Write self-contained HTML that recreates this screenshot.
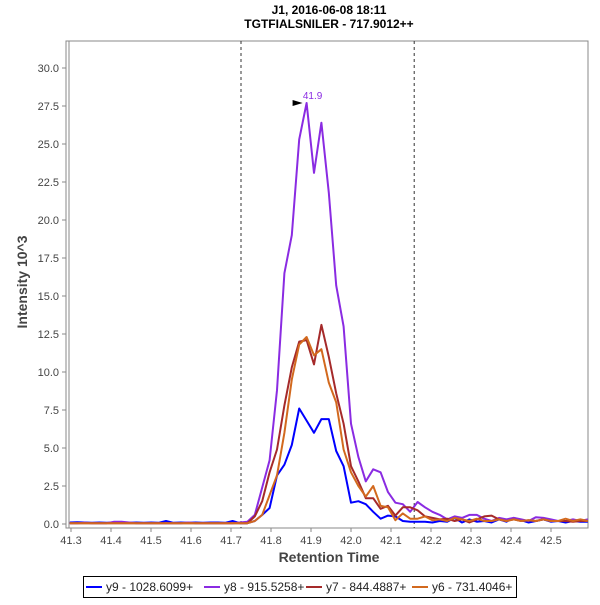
<!DOCTYPE html>
<html><head><meta charset="utf-8"><style>
body{margin:0;background:#fff;}
svg{font-family:"Liberation Sans",sans-serif;}
</style></head><body>
<svg id="chart" width="600" height="600"></svg>
<script>
const times=[41.297,41.3155,41.334,41.3525,41.371,41.3895,41.408,41.4265,41.445,41.4635,41.482,41.5005,41.519,41.5375,41.556,41.5745,41.593,41.6115,41.63,41.6485,41.667,41.6855,41.704,41.7225,41.741,41.7595,41.778,41.7965,41.815,41.8335,41.852,41.8705,41.889,41.9075,41.926,41.9445,41.963,41.9815,42.0,42.0185,42.037,42.0555,42.074,42.0925,42.111,42.1295,42.148,42.1665,42.185,42.2035,42.222,42.2405,42.259,42.2775,42.296,42.3145,42.333,42.3515,42.37,42.3885,42.407,42.4255,42.444,42.4625,42.481,42.4995,42.518,42.5365,42.555,42.5735,42.592];
const y9=[0.1,0.12,0.1,0.08,0.1,0.08,0.1,0.1,0.08,0.1,0.08,0.1,0.08,0.2,0.08,0.1,0.08,0.1,0.08,0.1,0.1,0.08,0.2,0.05,0.05,0.2,0.6,1.05,3.2,3.9,5.2,7.6,6.8,6.0,6.9,6.9,4.8,3.8,1.4,1.5,1.3,0.8,0.35,0.55,0.5,0.2,0.15,0.15,0.15,0.1,0.2,0.15,0.4,0.1,0.3,0.15,0.2,0.1,0.3,0.15,0.4,0.25,0.1,0.2,0.3,0.15,0.2,0.1,0.2,0.15,0.15];
const y8=[0.05,0.05,0.08,0.05,0.05,0.05,0.15,0.15,0.1,0.05,0.05,0.05,0.05,0.05,0.05,0.05,0.1,0.05,0.05,0.05,0.05,0.05,0.05,0.1,0.15,0.6,2.4,4.2,8.8,16.5,19.0,25.3,27.7,23.1,26.4,21.8,15.7,13.0,6.6,4.4,2.8,3.6,3.4,2.1,1.4,1.3,0.8,1.45,1.1,0.8,0.6,0.3,0.5,0.4,0.6,0.6,0.35,0.2,0.4,0.3,0.4,0.3,0.2,0.45,0.4,0.3,0.2,0.2,0.3,0.2,0.3];
const y7=[0.05,0.05,0.05,0.05,0.05,0.05,0.05,0.05,0.05,0.05,0.05,0.05,0.05,0.05,0.05,0.05,0.05,0.05,0.05,0.05,0.05,0.05,0.05,0.05,0.05,0.5,1.5,3.4,4.9,7.8,10.3,12.0,12.1,10.5,13.1,11.0,8.6,6.6,3.8,2.8,1.7,1.7,1.0,1.2,0.55,1.1,1.1,0.9,0.5,0.4,0.3,0.35,0.2,0.3,0.1,0.3,0.5,0.55,0.3,0.2,0.3,0.2,0.25,0.2,0.3,0.2,0.2,0.2,0.15,0.2,0.2];
const y6=[0.05,0.05,0.05,0.05,0.05,0.05,0.05,0.05,0.05,0.05,0.05,0.05,0.05,0.05,0.05,0.05,0.05,0.05,0.05,0.05,0.05,0.05,0.05,0.05,0.05,0.2,0.6,1.9,3.2,6.0,9.5,11.8,12.3,11.1,11.5,9.3,8.0,4.9,3.4,2.5,1.8,2.5,1.2,1.1,0.25,0.7,0.35,0.35,0.5,0.25,0.3,0.2,0.4,0.3,0.2,0.35,0.2,0.2,0.3,0.2,0.3,0.2,0.25,0.2,0.3,0.2,0.2,0.35,0.2,0.3,0.2];
const xTicks=[41.3,41.4,41.5,41.6,41.7,41.8,41.9,42.0,42.1,42.2,42.3,42.4,42.5];
const yTicks=[0,2.5,5,7.5,10,12.5,15,17.5,20,22.5,25,27.5,30];
const markers=[41.725,42.158];
const apex={t:41.889,v:27.7,label:"41.9"};
const series=[{name:"y9 - 1028.6099+",vals:y9,color:"#0000ff"},{name:"y8 - 915.5258+",vals:y8,color:"#8a2be2"},{name:"y7 - 844.4887+",vals:y7,color:"#a52a2a"},{name:"y6 - 731.4046+",vals:y6,color:"#d2691e"}];

const X=t=>71+(t-41.3)*400, Y=v=>524-v*15.2;
const svg=document.getElementById('chart'),NS="http://www.w3.org/2000/svg";
function mk(tag,at,txt){const e=document.createElementNS(NS,tag);for(const k in at)e.setAttribute(k,at[k]);if(txt!==undefined)e.textContent=txt;svg.appendChild(e);return e;}
let e;
e=mk('text',{x:329,y:14,'text-anchor':'middle','font-size':12,'font-weight':'bold'},'J1, 2016-06-08 18:11');


e=mk('text',{x:329,y:28,'text-anchor':'middle','font-size':12,'font-weight':'bold'},'TGTFIALSNILER - 717.9012++');


e=mk('rect',{x:66,y:41,width:522,height:487,fill:'#fff',stroke:'#888','stroke-width':1});


mk('line',{x1:69,y1:41,x2:69,y2:528,stroke:'#888'});
xTicks.forEach(t=>{const x=X(t);mk('line',{x1:x,y1:528,x2:x,y2:532,stroke:'#888'});
e=mk('text',{x:x,y:544,'text-anchor':'middle','font-size':11,fill:'#444'},t.toFixed(1));

});
yTicks.forEach(v=>{const y=Y(v);mk('line',{x1:62,y1:y,x2:66,y2:y,stroke:'#888'});
e=mk('text',{x:59,y:y+4,'text-anchor':'end','font-size':11,fill:'#444'},v.toFixed(1));

});
markers.forEach(t=>{e=mk('line',{x1:X(t),y1:41,x2:X(t),y2:528,stroke:'#333','stroke-dasharray':'3,3'});

});
series.forEach(s=>{const d=s.vals.map((v,i)=>(i?'L':'M')+X(times[i]).toFixed(1)+','+Y(v).toFixed(1)).join('');
e=mk('path',{d:d,fill:'none',stroke:s.color,'stroke-width':2,'stroke-linejoin':'round'});

});
const ax=X(apex.t),ay=Y(apex.v);
e=mk('path',{d:`M${ax-4},${ay} L${ax-14},${ay-3} L${ax-14},${ay+3}Z`,fill:'#000'});


e=mk('text',{x:ax+6,y:ay-4,'font-size':10,fill:'#8a2be2','text-anchor':'middle'},apex.label);


e=mk('text',{x:329,y:562,'text-anchor':'middle','font-size':14,'font-weight':'bold',fill:'#444'},'Retention Time');


e=mk('text',{x:0,y:0,'text-anchor':'middle','font-size':14,'font-weight':'bold',fill:'#444',transform:'translate(27,282) rotate(-90)'},'Intensity 10^3');


e=mk('rect',{x:83.5,y:576.5,width:433,height:21,fill:'#fff',stroke:'#000'});


const lx=[86,204,306,412];
series.forEach((s,i)=>{mk('line',{x1:lx[i],y1:587,x2:lx[i]+16,y2:587,stroke:s.color,'stroke-width':2});
e=mk('text',{x:lx[i]+20,y:591,'font-size':12,fill:'#222'},s.name);

});
</script>
</body></html>
